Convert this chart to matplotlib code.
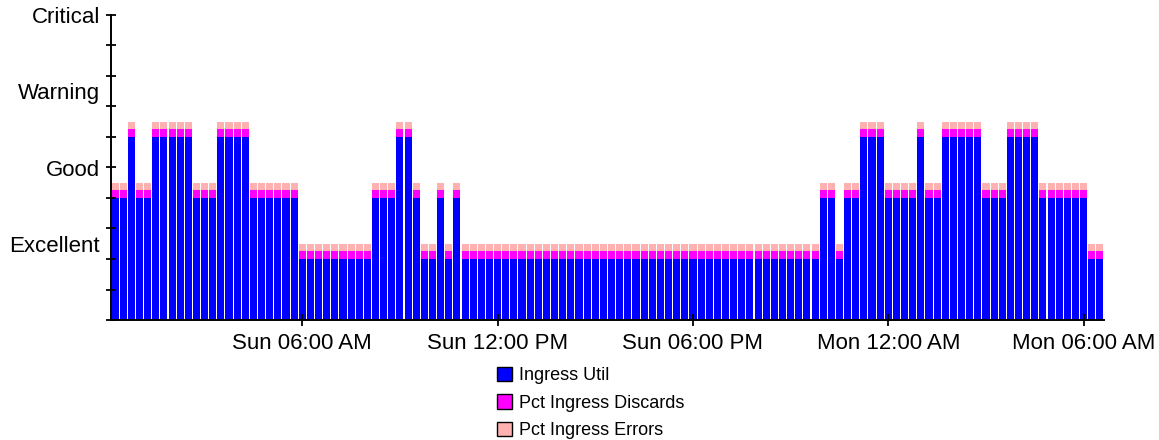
import matplotlib.pyplot as plt
import matplotlib.dates as mdates
from matplotlib.patches import Patch
import pandas as pd

plt.rcParams['font.family'] = ['Liberation Sans', 'DejaVu Sans']

# 15 minute samples, starting Sun 00:15
times = pd.date_range('2010-01-03 00:15', periods=122, freq='15min')

ingress_util = [
    40, 40, 60, 40, 40, 60, 60, 60, 60, 60,
    40, 40, 40, 60, 60, 60, 60, 40, 40, 40,
    40, 40, 40, 20, 20, 20, 20, 20, 20, 20,
    20, 20, 40, 40, 40, 60, 60, 40, 20, 20,
    40, 20, 40, 20, 20, 20, 20, 20, 20, 20,
    20, 20, 20, 20, 20, 20, 20, 20, 20, 20,
    20, 20, 20, 20, 20, 20, 20, 20, 20, 20,
    20, 20, 20, 20, 20, 20, 20, 20, 20, 20,
    20, 20, 20, 20, 20, 20, 20, 40, 40, 20,
    40, 40, 60, 60, 60, 40, 40, 40, 40, 60,
    40, 40, 60, 60, 60, 60, 60, 40, 40, 40,
    60, 60, 60, 60, 40, 40, 40, 40, 40, 40,
    20, 20,
]
pct_discards = [
    2.5, 2.5, 2.5, 2.5, 2.5, 2.5, 2.5, 2.5, 2.5, 2.5,
    2.5, 2.5, 2.5, 2.5, 2.5, 2.5, 2.5, 2.5, 2.5, 2.5,
    2.5, 2.5, 2.5, 2.5, 2.5, 2.5, 2.5, 2.5, 2.5, 2.5,
    2.5, 2.5, 2.5, 2.5, 2.5, 2.5, 2.5, 2.5, 2.5, 2.5,
    2.5, 2.5, 2.5, 2.5, 2.5, 2.5, 2.5, 2.5, 2.5, 2.5,
    2.5, 2.5, 2.5, 2.5, 2.5, 2.5, 2.5, 2.5, 2.5, 2.5,
    2.5, 2.5, 2.5, 2.5, 2.5, 2.5, 2.5, 2.5, 2.5, 2.5,
    2.5, 2.5, 2.5, 2.5, 2.5, 2.5, 2.5, 2.5, 2.5, 2.5,
    2.5, 2.5, 2.5, 2.5, 2.5, 2.5, 2.5, 2.5, 2.5, 2.5,
    2.5, 2.5, 2.5, 2.5, 2.5, 2.5, 2.5, 2.5, 2.5, 2.5,
    2.5, 2.5, 2.5, 2.5, 2.5, 2.5, 2.5, 2.5, 2.5, 2.5,
    2.5, 2.5, 2.5, 2.5, 2.5, 2.5, 2.5, 2.5, 2.5, 2.5,
    2.5, 2.5,
]
pct_errors = [
    2.5, 2.5, 2.5, 2.5, 2.5, 2.5, 2.5, 2.5, 2.5, 2.5,
    2.5, 2.5, 2.5, 2.5, 2.5, 2.5, 2.5, 2.5, 2.5, 2.5,
    2.5, 2.5, 2.5, 2.5, 2.5, 2.5, 2.5, 2.5, 2.5, 2.5,
    2.5, 2.5, 2.5, 2.5, 2.5, 2.5, 2.5, 2.5, 2.5, 2.5,
    2.5, 2.5, 2.5, 2.5, 2.5, 2.5, 2.5, 2.5, 2.5, 2.5,
    2.5, 2.5, 2.5, 2.5, 2.5, 2.5, 2.5, 2.5, 2.5, 2.5,
    2.5, 2.5, 2.5, 2.5, 2.5, 2.5, 2.5, 2.5, 2.5, 2.5,
    2.5, 2.5, 2.5, 2.5, 2.5, 2.5, 2.5, 2.5, 2.5, 2.5,
    2.5, 2.5, 2.5, 2.5, 2.5, 2.5, 2.5, 2.5, 2.5, 2.5,
    2.5, 2.5, 2.5, 2.5, 2.5, 2.5, 2.5, 2.5, 2.5, 2.5,
    2.5, 2.5, 2.5, 2.5, 2.5, 2.5, 2.5, 2.5, 2.5, 2.5,
    2.5, 2.5, 2.5, 2.5, 2.5, 2.5, 2.5, 2.5, 2.5, 2.5,
    2.5, 2.5,
]

level_names = ['Excellent', 'Good', 'Warning', 'Critical']
level_values = [25, 50, 75, 100]
series_names = ['Ingress Util', 'Pct Ingress Discards', 'Pct Ingress Errors']
colors = ['#0000ff', '#ff00ff', '#ffb0b0']

fig = plt.figure(figsize=(11.59, 4.40), dpi=100)
ax = fig.add_axes([111/1159, 120/440, 993/1159, 305/440])

width = pd.Timedelta('15min') / pd.Timedelta('1D') * 0.87
bottom2 = [u + d for u, d in zip(ingress_util, pct_discards)]
ax.bar(times, ingress_util, width=width, color=colors[0], linewidth=0)
ax.bar(times, pct_discards, width=width, bottom=ingress_util, color=colors[1], linewidth=0)
ax.bar(times, pct_errors, width=width, bottom=bottom2, color=colors[2], linewidth=0)

ax.set_xlim(pd.Timestamp('2010-01-03 00:07:30'), pd.Timestamp('2010-01-04 06:37:30'))
ax.set_ylim(0, 100)

ax.xaxis.set_major_locator(mdates.HourLocator(byhour=[0, 6, 12, 18]))
ax.xaxis.set_major_formatter(mdates.DateFormatter('%a %I:%M %p'))
ax.tick_params(axis='x', direction='inout', length=8, width=1.3, labelsize=16, pad=5)

# tick marks every 10, level names as (unmarked) minor labels
ax.set_yticks(range(0, 101, 10))
ax.set_yticklabels([])
ax.set_yticks(level_values, minor=True)
ax.set_yticklabels(level_names, minor=True)
ax.yaxis.remove_overlapping_locs = False
ax.tick_params(axis='y', which='major', direction='inout', length=7, width=1.3)
ax.tick_params(axis='y', which='minor', length=0, labelsize=16, pad=8)

for s in ['top', 'right']:
    ax.spines[s].set_visible(False)
for s in ['left', 'bottom']:
    ax.spines[s].set_linewidth(1.4)

handles = [Patch(facecolor=c, edgecolor='black', linewidth=1) for c in colors]
fig.legend(handles, series_names, loc='upper left', bbox_to_anchor=(497/1159, 1 - 367/440),
           frameon=False, fontsize=13, handlelength=0.85, handleheight=0.85,
           handletextpad=0.35, labelspacing=0.55, borderpad=0, borderaxespad=0)

fig.savefig('out.png', dpi=100)
